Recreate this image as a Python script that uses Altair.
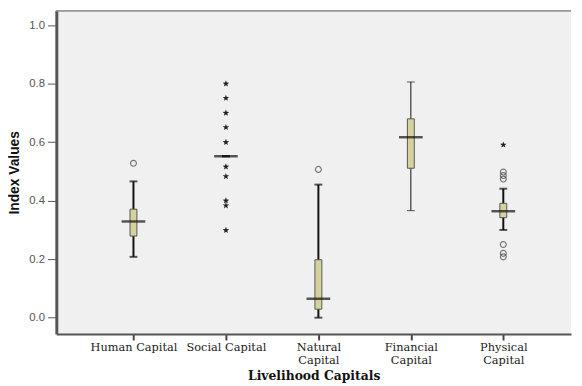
import math
import altair as alt
import pandas as pd

# ---- data ----
categories = ["Human Capital", "Social Capital", "Natural Capital", "Financial Capital", "Physical Capital"]
tick_labels = [["Human Capital"], ["Social Capital"], ["Natural", "Capital"], ["Financial", "Capital"], ["Physical", "Capital"]]
q1 = [0.279, 0.552, 0.029, 0.511, 0.342]
median = [0.329, 0.552, 0.065, 0.617, 0.364]
q3 = [0.371, 0.552, 0.198, 0.680, 0.391]
whisker_low = [0.208, 0.552, 0.000, 0.366, 0.300]
whisker_high = [0.466, 0.552, 0.455, 0.806, 0.441]

outlier_cat = ["Human Capital", "Natural Capital",
               "Physical Capital", "Physical Capital", "Physical Capital",
               "Physical Capital", "Physical Capital", "Physical Capital"]
outlier_val = [0.528, 0.507, 0.498, 0.486, 0.474, 0.250, 0.220, 0.208]

extreme_cat = ["Social Capital"] * 10 + ["Physical Capital"]
extreme_val = [0.800, 0.751, 0.700, 0.651, 0.600, 0.516, 0.483, 0.400, 0.383, 0.299, 0.591]

y_ticks = [0.0, 0.2, 0.4, 0.6, 0.8, 1.0]

# ---- tables ----
pos = {c: i for i, c in enumerate(categories)}
boxes = pd.DataFrame({
    "cat": categories, "pos": list(range(len(categories))),
    "q1": q1, "median": median, "q3": q3, "lo": whisker_low, "hi": whisker_high,
})
outliers = pd.DataFrame({"cat": outlier_cat, "pos": [pos[c] for c in outlier_cat], "v": outlier_val})
extremes = pd.DataFrame({"cat": extreme_cat, "pos": [pos[c] for c in extreme_cat], "v": extreme_val})

# star shape path
pts = []
for k in range(10):
    r = 1.0 if k % 2 == 0 else 0.42
    a = -math.pi / 2 + k * math.pi / 5
    pts.append(f"{r*math.cos(a):.3f},{r*math.sin(a):.3f}")
star = "M" + "L".join(pts) + "Z"

W, H = 522, 328
xdom = [-0.781, -0.781 + W / 95.6]
ydom = [-0.056, 1.05]

label_expr = "[" + ",".join("[" + ",".join(f"'{s}'" for s in lines) + "]" for lines in tick_labels) + "][datum.value]"

x = alt.X("pos:Q", scale=alt.Scale(domain=xdom, nice=False, zero=False),
          axis=alt.Axis(values=list(range(len(categories))), labelExpr=label_expr,
                        title="Livelihood Capitals", grid=False,
                        domainColor="#555555", domainWidth=2, tickColor="#444444",
                        tickWidth=2, tickSize=6, labelFont="DejaVu Serif", labelFontSize=11.5,
                        labelColor="#222222", labelPadding=2, labelLineHeight=13,
                        titleFont="DejaVu Serif", titleFontSize=12.5, titleFontWeight="bold",
                        titleColor="#111111", titleY=36, titleBaseline="top"))
y_scale = alt.Scale(domain=ydom, nice=False, zero=False)
y = alt.Y("lo:Q", scale=y_scale,
          axis=alt.Axis(values=y_ticks, format=".1f", title="Index Values", grid=False,
                        domainColor="#555555", domainWidth=3, tickColor="#555555",
                        tickSize=9, tickWidth=1, labelFont="Liberation Sans", labelFontSize=11.5,
                        labelColor="#555555", labelPadding=3,
                        titleFont="Liberation Sans", titleFontSize=14, titleFontWeight="bold",
                        titleColor="#111111", titlePadding=7))

base = alt.Chart(boxes)
thin = alt.datum.cat == "Financial Capital"
thick = alt.datum.cat != "Financial Capital"
sw = alt.condition(thin, alt.value(1), alt.value(2))

whisk = base.mark_rule(color="#111111").encode(x=x, y=y, y2="hi:Q", strokeWidth=sw)
box = base.mark_bar(size=7, fill="#d6d29c", stroke="#555555", strokeWidth=1).encode(
    x=x, y=alt.Y("q1:Q", scale=y_scale), y2="q3:Q")


def caps(field, flt, t):
    return base.transform_filter(flt).mark_tick(
        orient="horizontal", size=8, thickness=t, color="#111111").encode(
        x=x, y=alt.Y(f"{field}:Q", scale=y_scale))


cap_layers = [caps("lo", thick, 2), caps("hi", thick, 2), caps("lo", thin, 1), caps("hi", thin, 1)]
med = base.mark_tick(orient="horizontal", size=24, thickness=2.5, color="#111111").encode(
    x=x, y=alt.Y("median:Q", scale=y_scale))

circ = alt.Chart(outliers).mark_point(shape="circle", size=36, filled=False,
                                      color="#444444", strokeWidth=1.2).encode(
    x=x, y=alt.Y("v:Q", scale=y_scale))
stars = alt.Chart(extremes).mark_point(shape=star, size=48, filled=True,
                                       color="#222222", opacity=1).encode(
    x=x, y=alt.Y("v:Q", scale=y_scale))

top_border = alt.Chart(boxes).mark_rule(color="#999999", strokeWidth=1.5).encode(
    x=alt.value(0), x2=alt.value(W), y=alt.value(0))

chart = alt.layer(whisk, box, *cap_layers, med, circ, stars, top_border).properties(
    width=W, height=H,
    padding={"left": 49, "top": 0, "right": 3, "bottom": 48},
    autosize=alt.AutoSizeParams(type="none"),
    background="white",
).configure_view(fill="#f0f0f0", stroke=None)

chart.save("out.html", embed_options={"renderer": "svg", "actions": False})
